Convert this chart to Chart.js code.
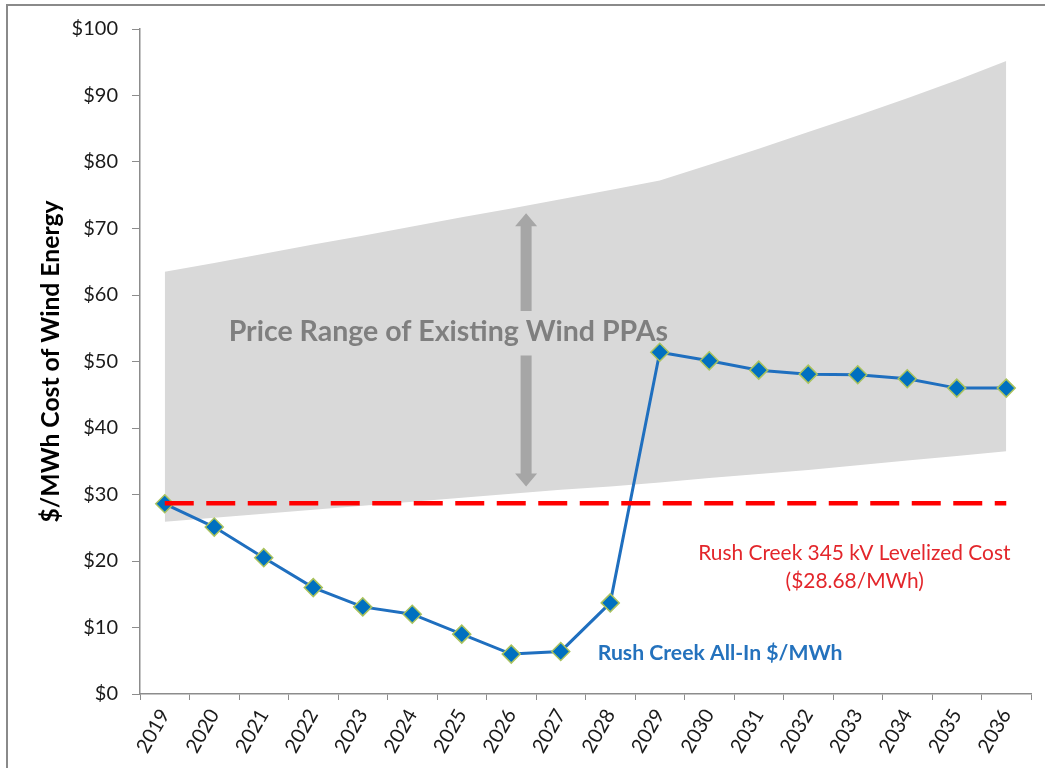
<!DOCTYPE html>
<html lang="en">
<head>
  <meta charset="UTF-8">
  <title>Rush Creek All-In Cost vs Wind PPAs</title>
  <script src="https://cdn.jsdelivr.net/npm/chart.js"></script>
  <style>
    html, body { margin: 0; padding: 0; background: #fff; }
    #wrap { width: 1045px; height: 768px; }
  </style>
</head>
<body>
  <div id="wrap"><canvas id="costChart" width="1045" height="768"></canvas></div>

  <script>
    // Chart data
    const years = ['2019', '2020', '2021', '2022', '2023', '2024', '2025', '2026', '2027',
                   '2028', '2029', '2030', '2031', '2032', '2033', '2034', '2035', '2036'];
    const allInCost = [28.6, 25.1, 20.5, 16.0, 13.1, 12.0, 9.0, 6.0, 6.4,
                       13.7, 51.4, 50.1, 48.7, 48.1, 48.0, 47.4, 46.0, 46.0];
    const ppaHigh = [63.5, 64.8, 66.2, 67.6, 68.9, 70.3, 71.7, 73.0, 74.4,
                     75.8, 77.2, 79.6, 82.0, 84.5, 87.0, 89.6, 92.3, 95.2];
    const ppaLow = [25.9, 26.5, 27.1, 27.7, 28.3, 28.9, 29.5, 30.1, 30.7,
                    31.2, 31.8, 32.5, 33.1, 33.7, 34.4, 35.1, 35.8, 36.5];
    const levelizedCost = 28.68;
    const yMin = 0, yMax = 100, yStep = 10;

    const FONT = 'Lato';

    // scale a font so the text fills a given width
    function fitFont(ctx, text, weight, width) {
      ctx.font = weight + ' 20px ' + FONT;
      const size = 20 * width / ctx.measureText(text).width;
      return weight + ' ' + size.toFixed(1) + 'px ' + FONT;
    }

    function drawArrow(ctx, x, yBase, yTip) {
      const dir = yTip < yBase ? -1 : 1;
      const head = 13, shaft = 5.5, wing = 11;
      ctx.beginPath();
      ctx.moveTo(x - shaft, yBase);
      ctx.lineTo(x - shaft, yTip - dir * head);
      ctx.lineTo(x - wing, yTip - dir * head);
      ctx.lineTo(x, yTip);
      ctx.lineTo(x + wing, yTip - dir * head);
      ctx.lineTo(x + shaft, yTip - dir * head);
      ctx.lineTo(x + shaft, yBase);
      ctx.closePath();
      ctx.fill();
    }

    // frame, axis title and text notes
    const notes = {
      id: 'notes',
      beforeDraw(chart) {
        const ctx = chart.ctx;
        ctx.save();
        ctx.strokeStyle = '#8a8a8a';
        ctx.lineWidth = 2;
        ctx.beginPath();
        ctx.moveTo(7, 768);
        ctx.lineTo(7, 5);
        ctx.lineTo(1045, 5);
        ctx.stroke();
        ctx.restore();
      },
      afterDatasetsDraw(chart) {
        const ctx = chart.ctx;
        const x = chart.scales.x, y = chart.scales.y;
        const area = chart.chartArea;
        ctx.save();
        ctx.textAlign = 'center';
        ctx.textBaseline = 'middle';

        // y axis title
        const yTitle = '$/MWh Cost of Wind Energy';
        ctx.font = fitFont(ctx, yTitle, 'bold', 322);
        ctx.fillStyle = '#000';
        ctx.translate(51, (area.top + area.bottom) / 2);
        ctx.rotate(-Math.PI / 2);
        ctx.fillText(yTitle, 0, 0);
        ctx.setTransform(1, 0, 0, 1, 0, 0);

        // double arrow across the PPA band
        const ax = x.getPixelForValue(7.3);
        ctx.fillStyle = '#a6a6a6';
        drawArrow(ctx, ax, y.getPixelForValue(57.6), y.getPixelForValue(72.3));
        drawArrow(ctx, ax, y.getPixelForValue(50.9), y.getPixelForValue(31.2));

        const bandLabel = 'Price Range of Existing Wind PPAs';
        ctx.font = fitFont(ctx, bandLabel, 'bold', 439);
        ctx.fillStyle = '#7f7f7f';
        ctx.fillText(bandLabel, x.getPixelForValue(5.73), y.getPixelForValue(54.4));

        const costLabel = 'Rush Creek 345 kV Levelized Cost';
        ctx.font = fitFont(ctx, costLabel, 'normal', 313);
        ctx.fillStyle = '#e3262b';
        ctx.fillText(costLabel, x.getPixelForValue(13.93), y.getPixelForValue(21.2));
        ctx.fillText('($' + levelizedCost.toFixed(2) + '/MWh)', x.getPixelForValue(13.94), y.getPixelForValue(16.9));

        const allInLabel = 'Rush Creek All-In $/MWh';
        ctx.font = fitFont(ctx, allInLabel, 'bold', 245);
        ctx.fillStyle = '#2472bd';
        ctx.fillText(allInLabel, x.getPixelForValue(11.22), y.getPixelForValue(6.2));

        ctx.restore();
      }
    };

    const ctx = document.getElementById('costChart').getContext('2d');
    const costChart = new Chart(ctx, {
      type: 'line',
      data: {
        labels: years,
        datasets: [
          {
            label: 'PPA high',
            data: ppaHigh,
            fill: '+1',
            backgroundColor: '#d9d9d9',
            borderColor: 'rgba(0,0,0,0)',
            borderWidth: 0,
            pointRadius: 0,
            order: 3,
          },
          {
            label: 'PPA low',
            data: ppaLow,
            fill: false,
            borderColor: 'rgba(0,0,0,0)',
            borderWidth: 0,
            pointRadius: 0,
            order: 3,
          },
          {
            label: 'Rush Creek All-In $/MWh',
            data: allInCost,
            borderColor: '#1f6fbf',
            borderWidth: 3,
            pointStyle: 'rectRot',
            pointRadius: 9,
            pointBackgroundColor: '#0070c0',
            pointBorderColor: '#a9c25e',
            pointBorderWidth: 1.5,
            tension: 0,
            fill: false,
            order: 2,
          },
          {
            label: 'Rush Creek 345 kV Levelized Cost',
            data: [{ x: years[0], y: levelizedCost }, { x: years[years.length - 1], y: levelizedCost }],
            borderColor: '#ff0000',
            borderWidth: 4.5,
            borderDash: [29, 12.5],
            pointRadius: 0,
            fill: false,
            order: 1,
          },
        ],
      },
      options: {
        responsive: false,
        animation: false,
        events: [],
        layout: { padding: { top: 29, right: 14, left: 0, bottom: 0 } },
        plugins: {
          legend: { display: false },
          tooltip: { enabled: false },
        },
        scales: {
          x: {
            offset: true,
            grid: { offset: true, drawOnChartArea: false, drawTicks: true, tickLength: 6, color: '#8c8c8c' },
            border: { color: '#8c8c8c', width: 1.5 },
            ticks: {
              autoSkip: false,
              minRotation: 60,
              maxRotation: 60,
              padding: 5,
              color: '#1a1a1a',
              font: { family: FONT, size: 20 },
            },
            afterFit(scale) { scale.height = 74; },
          },
          y: {
            min: yMin,
            max: yMax,
            grid: { drawOnChartArea: false, drawTicks: true, tickLength: 8, color: '#8c8c8c' },
            border: { color: '#8c8c8c', width: 1.5 },
            ticks: {
              stepSize: yStep,
              padding: 14,
              color: '#1a1a1a',
              font: { family: FONT, size: 20 },
              callback: (v) => '$' + v,
            },
            afterFit(scale) { scale.width = 140; },
          },
        },
      },
      plugins: [notes],
    });
  </script>
</body>
</html>
